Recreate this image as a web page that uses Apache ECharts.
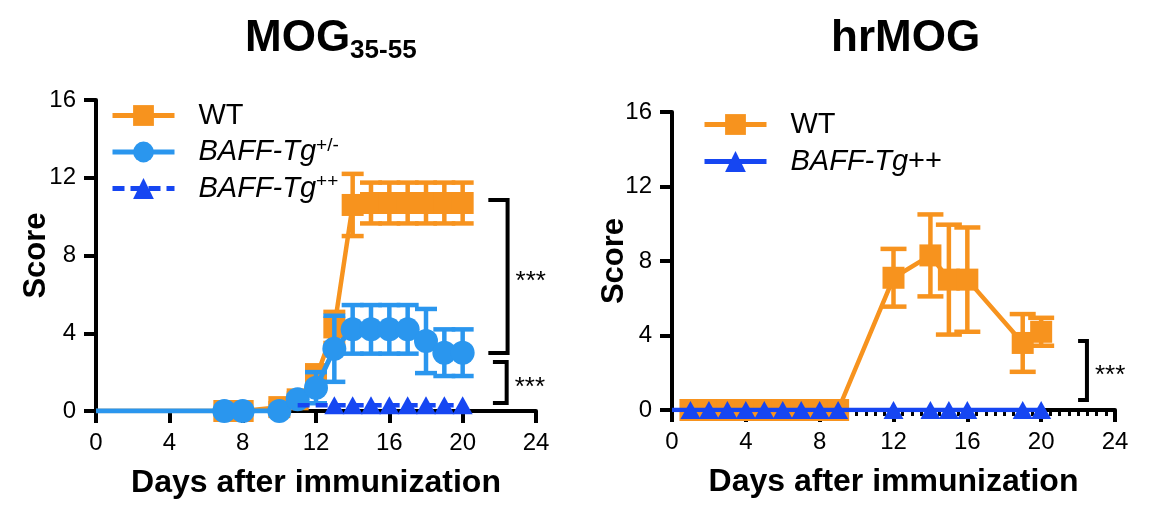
<!DOCTYPE html>
<html><head><meta charset="utf-8">
<script src="https://cdn.jsdelivr.net/npm/echarts@6/dist/echarts.min.js"></script>
<style>html,body{margin:0;padding:0;background:#fff}#c{width:1154px;height:530px}</style>
</head><body><div id="c"></div>
<script>
// ---------------- data ----------------
const xTickInterval = 4;   // days
const yTickInterval = 4;   // score

// MOG35-55 panel
const mogWT_days  = [0, 7, 8, 10, 11, 12, 13, 14, 15, 16, 17, 18, 19, 20];
const mogWT_mean  = [0, 0, 0, 0.2, 0.6, 1.7, 4.3, 10.6, 10.7, 10.7, 10.7, 10.7, 10.7, 10.7];
const mogWT_sem   = [0, 0, 0, 0.2, 0.3, 0.65, 0.8, 1.6, 1.05, 1.05, 1.05, 1.05, 1.05, 1.05];

const mogHet_days = [0, 7, 8, 10, 11, 12, 13, 14, 15, 16, 17, 18, 19, 20];
const mogHet_mean = [0, 0, 0, 0, 0.6, 1.2, 3.2, 4.2, 4.2, 4.2, 4.2, 3.6, 3.0, 3.0];
const mogHet_sem  = [0, 0, 0, 0, 0.2, 0.8, 1.7, 1.25, 1.25, 1.25, 1.25, 1.65, 1.2, 1.2];

const mogHom_days = [11, 13, 14, 15, 16, 17, 18, 19, 20];
const mogHom_mean = [0.3, 0.3, 0.3, 0.3, 0.3, 0.3, 0.3, 0.3, 0.3];

// hrMOG panel
const hrWT_days  = [1, 2, 3, 4, 5, 6, 7, 8, 9, 12, 14, 15, 16, 19, 20];
const hrWT_mean  = [0, 0, 0, 0, 0, 0, 0, 0, 0, 7.1, 8.3, 7.0, 7.0, 3.6, 4.2];
const hrWT_sem   = [0, 0, 0, 0, 0, 0, 0, 0, 0, 1.55, 2.2, 2.95, 2.8, 1.55, 0.75];

const hrHom_days = [0, 1, 2, 3, 4, 5, 6, 7, 8, 9, 12, 14, 15, 16, 19, 20];
const hrHom_mean = [0, 0, 0, 0, 0, 0, 0, 0, 0, 0, 0, 0, 0, 0, 0, 0];

// significance brackets: [x inner, x outer, y top, y bottom] in data units
const mogBrackets = [[21.4, 22.45, 10.85, 2.98], [21.65, 22.4, 2.52, 0.41]];
const hrBrackets  = [[22.0, 22.48, 3.7, 0.54]];
const sigText = '***';

// legend labels
const legendLabels = {
  L_WT: '{n|WT}',
  L_HET: '{i|BAFF-Tg}{s|+/-}',
  L_HOM: '{i|BAFF-Tg}{s|++}',
  R_WT: '{n|WT}',
  R_HOM: '{i|BAFF-Tg}{n|++}'
};

// ---------------- styles ----------------
const FONT = '"Liberation Sans", Arial, Helvetica, sans-serif';
const ORANGE = '#F7931E';
const LBLUE = '#2A96EE';
const DBLUE = '#1646F2';

function pts(days, means) {
  return days.map((d, i) => {
    const o = { value: [d, means[i]] };
    if (d === 0) o.symbol = 'none';
    return o;
  });
}
function hideAt(data, days) {
  data.forEach(o => { if (days.indexOf(o.value[0]) >= 0) o.symbol = 'none'; });
  return data;
}
function errData(days, means, sems) { return days.map((d, i) => [d, means[i], sems[i]]); }
function errRender(color, half, lw) {
  return function (params, api) {
    const x = api.value(0), m = api.value(1), s = api.value(2);
    if (!s) return null;
    const t = api.coord([x, m + s]), b = api.coord([x, m - s]);
    const st = { stroke: color, lineWidth: lw };
    return { type: 'group', children: [
      { type: 'line', shape: { x1: t[0], y1: t[1], x2: b[0], y2: b[1] }, style: st },
      { type: 'line', shape: { x1: t[0] - half, y1: t[1], x2: t[0] + half, y2: t[1] }, style: st },
      { type: 'line', shape: { x1: b[0] - half, y1: b[1], x2: b[0] + half, y2: b[1] }, style: st }
    ]};
  };
}
function bracketRender(params, api) {
  const xi = api.value(0), xo = api.value(1), yt = api.value(2), yb = api.value(3);
  const p1 = api.coord([xi, yt]), p2 = api.coord([xo, yt]), p3 = api.coord([xo, yb]), p4 = api.coord([xi, yb]);
  return { type: 'group', children: [
    { type: 'polyline', shape: { points: [p1, p2, p3, p4] }, style: { stroke: '#000', lineWidth: 4, fill: null, lineJoin: 'miter' } },
    { type: 'text', style: { text: sigText, x: p2[0] + 8, y: (p2[1] + p3[1]) / 2 + 5, font: '26px ' + FONT, fill: '#000', textAlign: 'left', textVerticalAlign: 'middle' } }
  ]};
}

function xAxisCfg(gi, minor) {
  return {
    gridIndex: gi, type: 'value', min: 0, max: 24, interval: xTickInterval,
    axisLine: { show: true, onZero: false, lineStyle: { color: '#000', width: 4 } },
    axisTick: { show: true, length: 12, lineStyle: { color: '#000', width: 4 } },
    minorTick: { show: !!minor, splitNumber: 8, length: 6, lineStyle: { color: '#000', width: 3 } },
    axisLabel: { fontSize: 24, color: '#000', margin: 20, fontFamily: FONT },
    splitLine: { show: false },
    name: 'Days after immunization', nameLocation: 'middle', nameGap: 56, nameMoveOverlap: false,
    nameTextStyle: { fontSize: 32, fontWeight: 'bold', color: '#000', fontFamily: FONT }
  };
}
function yAxisCfg(gi, gap) {
  return {
    gridIndex: gi, type: 'value', min: 0, max: 16, interval: yTickInterval,
    axisLine: { show: true, onZero: false, lineStyle: { color: '#000', width: 4 } },
    axisTick: { show: true, length: 12, lineStyle: { color: '#000', width: 4 } },
    axisLabel: { fontSize: 24, color: '#000', margin: 20, fontFamily: FONT },
    splitLine: { show: false },
    name: 'Score', nameLocation: 'middle', nameGap: gap, nameMoveOverlap: false,
    nameTextStyle: { fontSize: 31, fontWeight: 'bold', color: '#000', fontFamily: FONT }
  };
}
const legendRich = {
  n: { fontSize: 29, lineHeight: 32, fontFamily: FONT, color: '#000' },
  i: { fontSize: 29, lineHeight: 32, fontFamily: FONT, fontStyle: 'italic', color: '#000' },
  s: { fontSize: 19, lineHeight: 20, fontFamily: FONT, color: '#000', verticalAlign: 'top' }
};
function legendCfg(left, top, names, gap) {
  return {
    left: left, top: top, orient: 'vertical', itemWidth: 62, itemHeight: 26, itemGap: gap,
    selectedMode: false, data: names,
    formatter: n => legendLabels[n],
    lineStyle: { width: 5 },
    textStyle: { fontSize: 29, color: '#000', fontFamily: FONT, padding: [0, 0, 0, 19], rich: legendRich }
  };
}
const titleRich = {
  a: { fontSize: 44, fontWeight: 'bold', lineHeight: 50, fontFamily: FONT, color: '#000' },
  b: { fontSize: 26, fontWeight: 'bold', lineHeight: 26, fontFamily: FONT, color: '#000', verticalAlign: 'bottom' }
};

const option = {
  backgroundColor: '#fff',
  animation: false,
  title: [
    { text: '{a|MOG}{b|35-55}', left: 240, top: 9, textStyle: { rich: titleRich } },
    { text: '{a|hrMOG}', left: 826, top: 9, textStyle: { rich: titleRich } }
  ],
  legend: [
    legendCfg(105, 96, ['L_WT', 'L_HET', 'L_HOM'], 6),
    legendCfg(697, 105, ['R_WT', 'R_HOM'], 8)
  ],
  grid: [
    { left: 96, top: 100, width: 440, height: 311 },
    { left: 672, top: 112, width: 443, height: 298 }
  ],
  xAxis: [xAxisCfg(0, false), xAxisCfg(1, true)],
  yAxis: [yAxisCfg(0, 44), yAxisCfg(1, 42)],
  series: [
    // ---- MOG35-55 ----
    { type: 'custom', xAxisIndex: 0, yAxisIndex: 0, z: 2, clip: false, silent: true,
      renderItem: errRender(ORANGE, 11, 4.5), encode: { x: 0, y: 1 },
      data: errData(mogWT_days, mogWT_mean, mogWT_sem) },
    { type: 'line', name: 'L_WT', xAxisIndex: 0, yAxisIndex: 0, z: 3,
      symbol: 'rect', symbolSize: 22, lineStyle: { color: ORANGE, width: 4.5 }, itemStyle: { color: ORANGE },
      data: pts(mogWT_days, mogWT_mean) },
    { type: 'custom', xAxisIndex: 0, yAxisIndex: 0, z: 4, clip: false, silent: true,
      renderItem: errRender(LBLUE, 11, 4.5), encode: { x: 0, y: 1 },
      data: errData(mogHet_days, mogHet_mean, mogHet_sem) },
    { type: 'line', name: 'L_HET', xAxisIndex: 0, yAxisIndex: 0, z: 5,
      symbol: 'circle', symbolSize: 24, lineStyle: { color: LBLUE, width: 5 }, itemStyle: { color: LBLUE },
      data: pts(mogHet_days, mogHet_mean) },
    { type: 'line', name: 'L_HOM', xAxisIndex: 0, yAxisIndex: 0, z: 6,
      symbol: 'triangle', symbolSize: [20, 18], lineStyle: { color: DBLUE, width: 4.5, type: [12, 6] }, itemStyle: { color: DBLUE },
      data: hideAt(pts(mogHom_days, mogHom_mean), [11]) },
    { type: 'custom', xAxisIndex: 0, yAxisIndex: 0, z: 7, clip: false, silent: true,
      renderItem: bracketRender, encode: { x: [0, 1], y: [2, 3] }, data: mogBrackets },
    // ---- hrMOG ----
    { type: 'custom', xAxisIndex: 1, yAxisIndex: 1, z: 2, clip: false, silent: true,
      renderItem: errRender(ORANGE, 13, 4.5), encode: { x: 0, y: 1 },
      data: errData(hrWT_days, hrWT_mean, hrWT_sem) },
    { type: 'line', name: 'R_WT', xAxisIndex: 1, yAxisIndex: 1, z: 3,
      symbol: 'rect', symbolSize: 22, lineStyle: { color: ORANGE, width: 4.5 }, itemStyle: { color: ORANGE },
      data: pts(hrWT_days, hrWT_mean) },
    { type: 'line', name: 'R_HOM', xAxisIndex: 1, yAxisIndex: 1, z: 6,
      symbol: 'triangle', symbolSize: [20, 18], lineStyle: { color: DBLUE, width: 4.5 }, itemStyle: { color: DBLUE },
      data: pts(hrHom_days, hrHom_mean) },
    { type: 'custom', xAxisIndex: 1, yAxisIndex: 1, z: 7, clip: false, silent: true,
      renderItem: bracketRender, encode: { x: [0, 1], y: [2, 3] }, data: hrBrackets }
  ]
};
const chart = echarts.init(document.getElementById('c'), null, { renderer: 'canvas' });
chart.setOption(option);
</script>
</body></html>
